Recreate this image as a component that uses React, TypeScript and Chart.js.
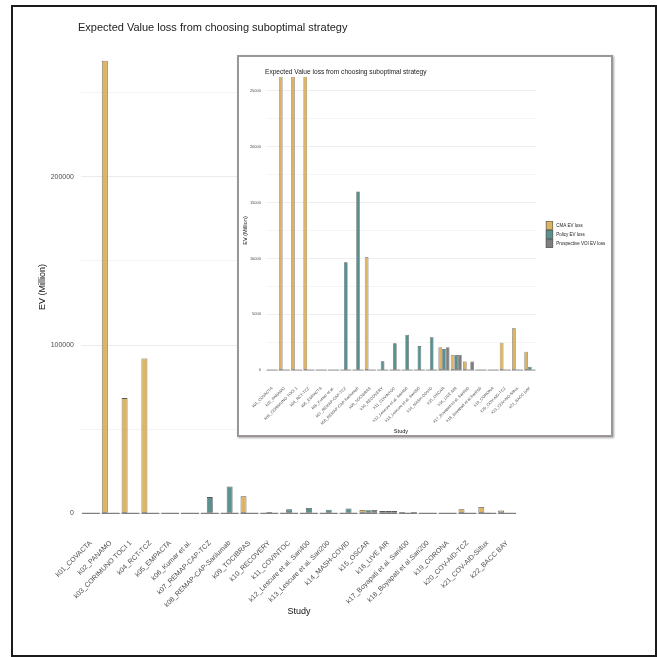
import React, { useEffect, useRef } from 'react';
import { Chart, registerables } from 'chart.js';

Chart.register(...registerables);

const FONT = '"Liberation Sans", Arial, Helvetica, sans-serif';
Chart.defaults.font.family = FONT;

// ---------- data ----------
const categories = [
  'k01_COVACTA',
  'k02_PANAMO',
  'k03_CORIMUNO TOCI 1',
  'k04_RCT-TCZ',
  'k05_EMPACTA',
  'k06_Kumar et al.',
  'k07_REMAP-CAP-TCZ',
  'k08_REMAP-CAP-Sarilumab',
  'k09_TOCIBRAS',
  'k10_RECOVERY',
  'k11_COVINTOC',
  'k12_Lescure et al. Sari400',
  'k13_Lescure et al. Sari200',
  'k14_MASH-COVID',
  'k15_OSCAR',
  'k16_LIVE AIR',
  'k17_Boyapati et al. Sari400',
  'k18_Boyapati et al.Sari200',
  'k19_CORONA',
  'k20_COV-AID-TCZ',
  'k21_COV-AID-Siltux',
  'k22_BACC BAY',
];

const seriesNames = ['CMA EV loss', 'Policy EV loss', 'Prospective VOI EV loss'];

const cmaLoss = [0, 269000, 68500, 92000, 0, 0, 0, 0, 10100, 0, 0, 0, 0, 0, 2050, 1350, 760, 0, 0, 2450, 3740, 1640];
const policyLoss = [0, 0, 0, 0, 0, 0, 9650, 16000, 0, 780, 2390, 3170, 2150, 2930, 1880, 1350, 0, 0, 0, 0, 60, 300];
const prospectiveLoss = [0, 0, 0, 0, 0, 0, 0, 0, 0, 0, 0, 0, 0, 0, 2050, 1350, 760, 0, 0, 0, 0, 0];

const mainTicks = [0, 50000, 100000, 150000, 200000, 250000];
const mainTickLabels = [0, 100000, 200000];
const insetTicks = [0, 2500, 5000, 7500, 10000, 12500, 15000, 17500, 20000, 22500, 25000];
const insetTickLabels = [0, 5000, 10000, 15000, 20000, 25000];
const insetLimits = [0, 25000];

const chartTitle = 'Expected Value loss from choosing suboptimal strategy';
const xTitle = 'Study';
const yTitle = 'EV (Million)';

const seriesColors = ['#DEB462', '#58918E', '#7E7E7E'];
const barBorder = '#5a5a5a';

// ---------- plugins ----------
const zeroLinePlugin = {
  id: 'zeroLine',
  beforeDatasetsDraw(chart: any, _a: any, opts: any) {
    const x = chart.scales.x;
    const y = chart.scales.y;
    const ctx = chart.ctx;
    const y0 = y.getPixelForValue(0);
    const w = (x.getPixelForValue(1) - x.getPixelForValue(0)) * 0.9;
    ctx.save();
    ctx.strokeStyle = opts.color;
    ctx.lineWidth = opts.width;
    for (let i = 0; i < chart.data.labels.length; i++) {
      const cx = x.getPixelForValue(i);
      ctx.beginPath();
      ctx.moveTo(cx - w / 2, y0);
      ctx.lineTo(cx + w / 2, y0);
      ctx.stroke();
    }
    ctx.restore();
  },
};

const panelTitlePlugin = {
  id: 'panelTitle',
  afterDraw(chart: any, _a: any, opts: any) {
    const ctx = chart.ctx;
    ctx.save();
    ctx.font = `${opts.size}px ${FONT}`;
    ctx.fillStyle = opts.color;
    ctx.textAlign = 'left';
    ctx.textBaseline = 'middle';
    ctx.fillText(opts.text, chart.chartArea.left + opts.dx, opts.y);
    ctx.restore();
  },
};

const sideLegendPlugin = {
  id: 'sideLegend',
  afterDraw(chart: any, _a: any, opts: any) {
    if (!opts || !opts.show) return;
    const ctx = chart.ctx;
    ctx.save();
    ctx.font = `${opts.size}px ${FONT}`;
    ctx.textAlign = 'left';
    ctx.textBaseline = 'middle';
    chart.data.datasets.forEach((ds: any, i: number) => {
      const y = opts.y + i * opts.keyH;
      ctx.fillStyle = ds.backgroundColor;
      ctx.fillRect(opts.x, y, opts.keyW, opts.keyH);
      ctx.strokeStyle = ds.borderColor;
      ctx.lineWidth = 0.6;
      ctx.strokeRect(opts.x + 0.5, y + 0.5, opts.keyW - 1, opts.keyH - 1);
      ctx.fillStyle = '#222';
      ctx.fillText(ds.label, opts.x + opts.keyW + opts.gap, y + opts.keyH / 2);
    });
    ctx.restore();
  },
};

function makeConfig(p: any) {
  const series = [cmaLoss, policyLoss, prospectiveLoss];
  const majorSet = new Set(p.tickLabels);
  return {
    type: 'bar',
    data: {
      labels: categories,
      datasets: series.map((vals, i) => ({
        label: seriesNames[i],
        data: vals,
        backgroundColor: seriesColors[i],
        borderColor: barBorder,
        borderWidth: p.barBorderWidth,
        borderSkipped: false,
        categoryPercentage: 0.9,
        barPercentage: 1.0,
      })),
    },
    plugins: [zeroLinePlugin, panelTitlePlugin, sideLegendPlugin],
    options: {
      animation: false,
      responsive: false,
      maintainAspectRatio: false,
      layout: { padding: p.padding },
      plugins: {
        legend: { display: false },
        title: { display: false },
        tooltip: { enabled: false },
        zeroLine: { color: '#7a7a7a', width: p.zeroWidth },
        panelTitle: { text: chartTitle, size: p.titleSize, color: '#222', y: p.titleY, dx: p.titleDx },
        sideLegend: p.legend,
      },
      scales: {
        x: {
          grid: { display: false, drawTicks: false },
          border: { display: false },
          ticks: {
            autoSkip: false,
            minRotation: 45,
            maxRotation: 45,
            padding: p.xTickPad,
            color: '#4d4d4d',
            font: { size: p.tickSize, family: FONT },
          },
          title: {
            display: true,
            text: xTitle,
            color: '#111',
            font: { size: p.axisTitleSize, family: FONT },
            padding: { top: 0, bottom: p.xTitlePad },
          },
          afterFit: (s: any) => {
            s.height = p.xHeight;
          },
        },
        y: {
          min: p.yMin,
          max: p.yMax,
          grid: {
            drawTicks: false,
            color: '#ebebeb',
            lineWidth: (c: any) => (c.tick && majorSet.has(c.tick.value) ? p.majorGrid : p.minorGrid),
          },
          border: { display: false },
          afterBuildTicks: (s: any) => {
            s.ticks = p.ticks.map((v: number) => ({ value: v }));
          },
          ticks: {
            padding: p.yTickPad,
            color: '#4d4d4d',
            font: { size: p.tickSize, family: FONT },
            callback: (v: any) => (majorSet.has(Number(v)) ? String(v) : ''),
          },
          title: {
            display: true,
            text: yTitle,
            color: '#111',
            font: { size: p.axisTitleSize, family: FONT },
            padding: { top: p.yTitlePad, bottom: 0 },
          },
          afterFit: (s: any) => {
            s.width = p.yWidth;
          },
        },
      },
    },
  } as any;
}

export default function App() {
  const mainRef = useRef<HTMLCanvasElement>(null);
  const insetRef = useRef<HTMLCanvasElement>(null);

  useEffect(() => {
    const allVals = [...cmaLoss, ...policyLoss, ...prospectiveLoss];
    const maxVal = Math.max(...allVals);
    const main = new Chart(
      mainRef.current as HTMLCanvasElement,
      makeConfig({
        padding: { left: 0, top: 38, right: 140, bottom: 0 },
        yWidth: 81,
        xHeight: 121,
        yMin: -maxVal * 0.05,
        yMax: maxVal * 1.05,
        ticks: mainTicks,
        tickLabels: mainTickLabels,
        tickSize: 7,
        axisTitleSize: 9,
        titleSize: 11,
        titleY: 28,
        titleDx: -3,
        xTickPad: 3,
        yTickPad: 7,
        xTitlePad: 40,
        yTitlePad: 37,
        barBorderWidth: 0.8,
        zeroWidth: 1.2,
        majorGrid: 1,
        minorGrid: 0.6,
        legend: { show: false },
      })
    );
    const span = insetLimits[1] - insetLimits[0];
    const inset = new Chart(
      insetRef.current as HTMLCanvasElement,
      makeConfig({
        padding: { left: 0, top: 20, right: 75, bottom: 0 },
        yWidth: 27,
        xHeight: 51,
        yMin: insetLimits[0] - span * 0.05,
        yMax: insetLimits[1] + span * 0.05,
        ticks: insetTicks,
        tickLabels: insetTickLabels,
        tickSize: 4,
        axisTitleSize: 5.6,
        titleSize: 6.6,
        titleY: 14.7,
        titleDx: -1,
        xTickPad: 2,
        yTickPad: 5,
        xTitlePad: 0.5,
        yTitlePad: 2.7,
        barBorderWidth: 0.6,
        zeroWidth: 0.8,
        majorGrid: 0.8,
        minorGrid: 0.5,
        legend: { show: true, x: 306.7, y: 164, keyW: 7.5, keyH: 9, gap: 3, size: 4.5 },
      })
    );
    return () => {
      main.destroy();
      inset.destroy();
    };
  }, []);

  return (
    <div
      style={{
        position: 'fixed',
        left: 0,
        top: 0,
        width: 657,
        height: 657,
        background: '#fff',
        overflow: 'hidden',
      }}
    >
      <div
        style={{
          position: 'absolute',
          left: 11,
          top: 5,
          width: 646,
          height: 652,
          boxSizing: 'border-box',
          border: '2px solid #1b1b1b',
        }}
      />
      <canvas
        ref={mainRef}
        width={657}
        height={657}
        style={{ position: 'absolute', left: 0, top: 0, width: 657, height: 657 }}
      />
      <div
        style={{
          position: 'absolute',
          left: 237,
          top: 55,
          width: 376,
          height: 382,
          boxSizing: 'border-box',
          border: '2px solid #9c9696',
          background: '#fff',
          boxShadow: '1px 1px 2px rgba(0,0,0,0.35)',
        }}
      >
        <canvas ref={insetRef} width={372} height={378} style={{ display: 'block', width: 372, height: 378 }} />
      </div>
    </div>
  );
}
